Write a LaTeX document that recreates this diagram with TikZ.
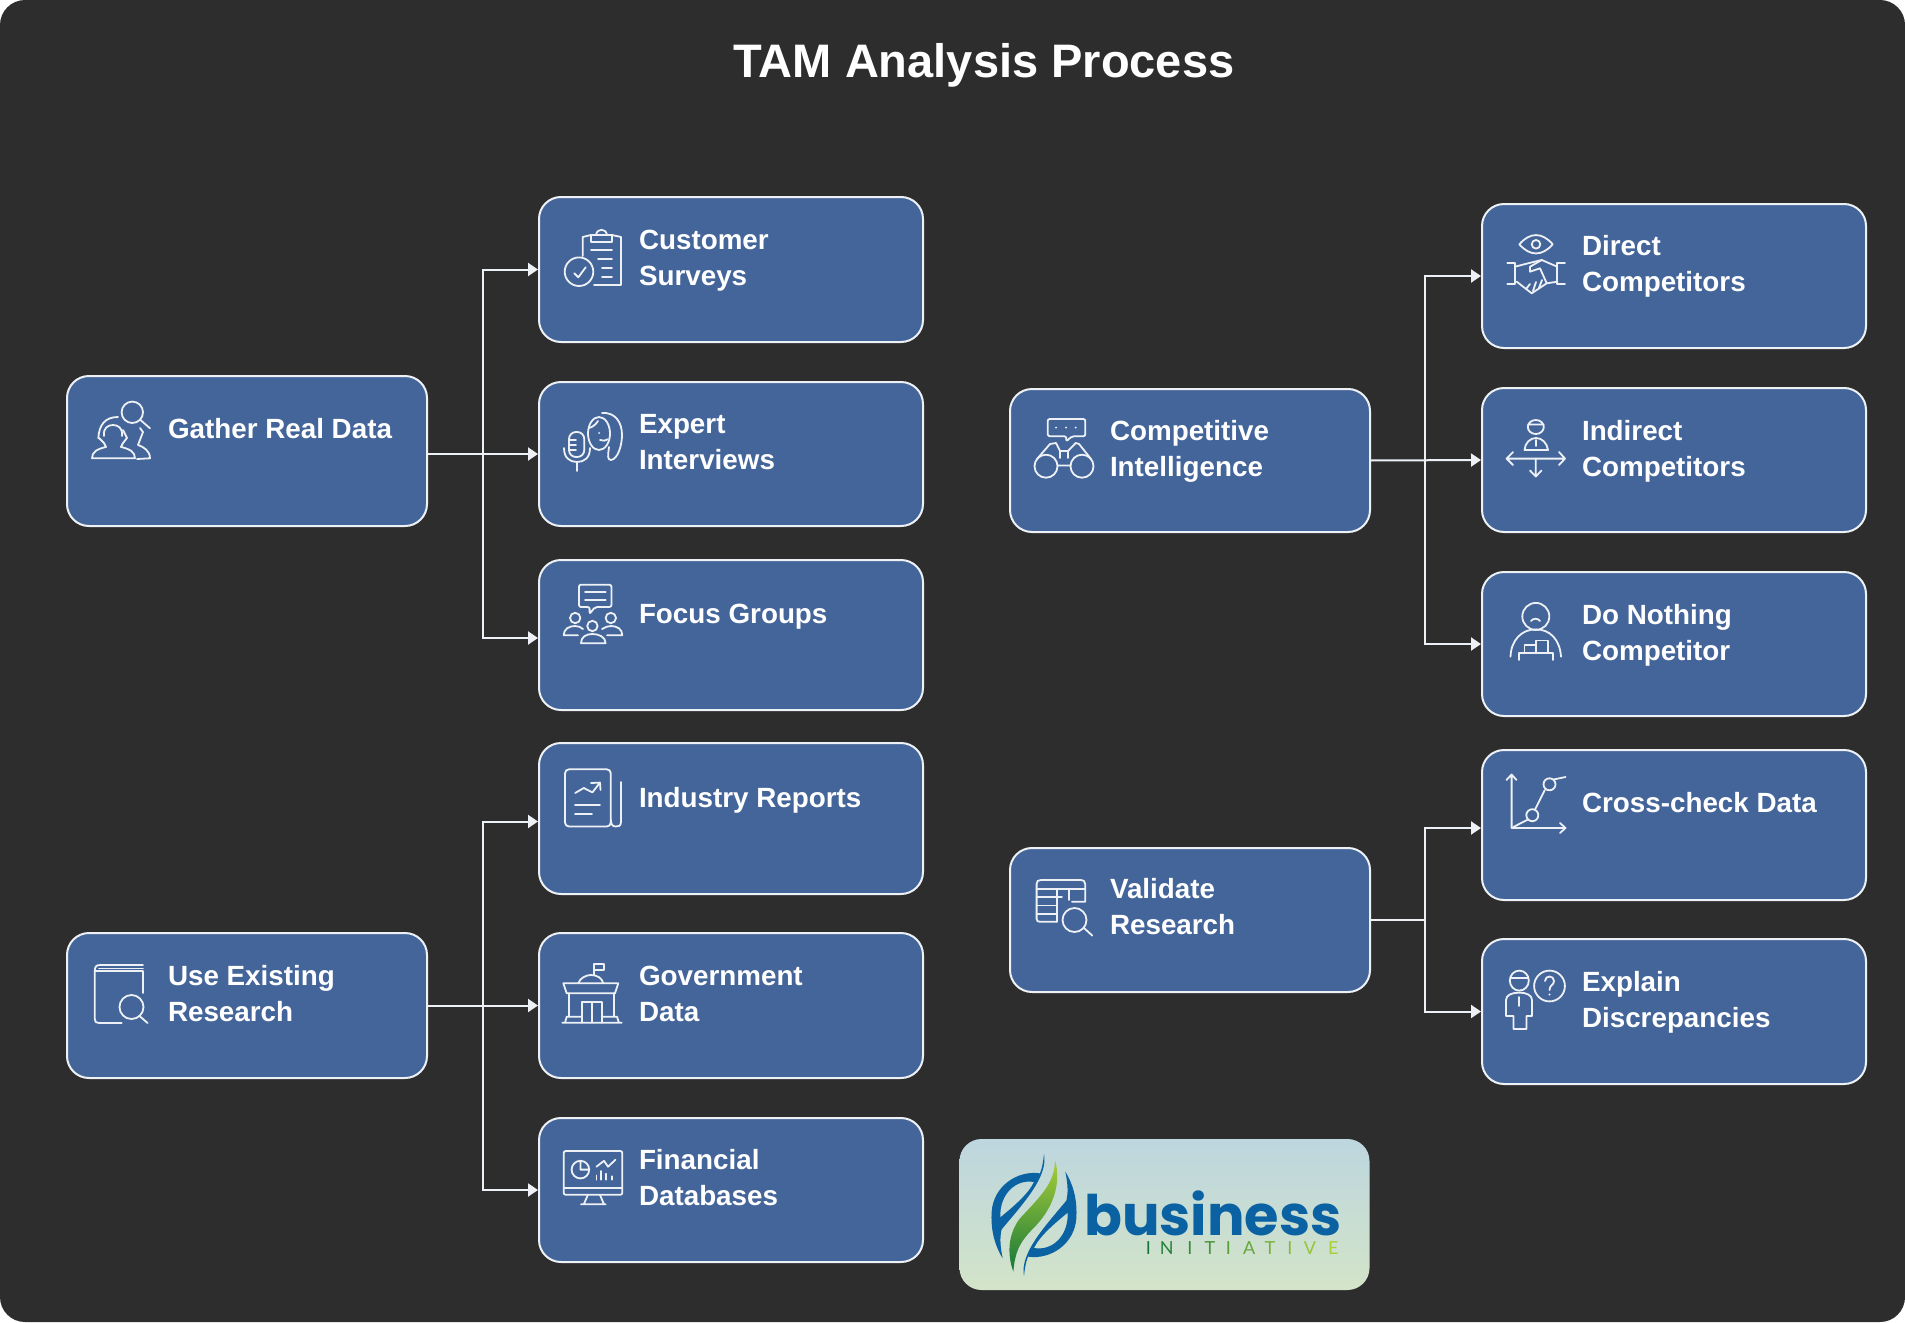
\documentclass[tikz,border=0pt]{standalone}
\usepackage{fontspec}
\setmainfont{Liberation Sans}
\newfontfamily\logofont{Poppins}
\newfontfamily\logothinfont{Lato}
\usetikzlibrary{arrows,arrows.meta}
\usetikzlibrary{calc}
\definecolor{pagebg}{HTML}{2D2D2D}
\definecolor{boxblue}{HTML}{44659A}
\definecolor{boxline}{HTML}{EDF1F6}
\definecolor{logoblue}{HTML}{0A62A3}
\definecolor{logodark}{HTML}{17773A}
\definecolor{logolight}{HTML}{A9CF38}
\definecolor{logotop}{HTML}{BDD6DF}
\definecolor{logobottom}{HTML}{D3E4C8}
\begin{document}
\begin{tikzpicture}[
        x=1pt,y=-1pt,
        >={Triangle[length=10pt,width=13pt]},
        headbox/.style = {draw=boxline,fill=boxblue,line width=2pt,rounded corners=22pt,outer sep=0pt,inner sep=0pt,minimum width=360pt},
        leafbox/.style = {headbox,minimum width=384pt},
        boxtext/.style = {anchor=west,text=white,align=left,inner sep=0pt,outer sep=0pt,font=\fontsize{27.8}{36}\selectfont\bfseries},
        link/.style = {draw=boxline,line width=2pt,shorten >=1pt},
        trunk/.style = {draw=boxline,line width=2pt},
        icon/.style = {draw=boxline,line width=1.8pt,line cap=round,line join=round}
    ]
    \useasboundingbox (0,0) rectangle (1905,1322);
    \fill[white] (0,0) rectangle (1905,1322);
    \fill[pagebg,rounded corners=25pt] (0,0) rectangle (1905,1322);
    \node[text=white,inner sep=0pt,font=\fontsize{47}{50}\selectfont\bfseries] (title) at (984,65) {TAM Analysis Process};

    % left column
    \node[headbox,minimum height=150pt] (gather) at (247,451) {};
    \node[leafbox,minimum height=145pt] (customer) at (731,269.5) {};
    \node[leafbox,minimum height=144pt] (expert) at (731,454) {};
    \node[leafbox,minimum height=150pt] (focus) at (731,635) {};
    \node[headbox,minimum height=145pt] (existing) at (247,1005.5) {};
    \node[leafbox,minimum height=151pt] (industry) at (731,818.5) {};
    \node[leafbox,minimum height=145pt] (government) at (731,1005.5) {};
    \node[leafbox,minimum height=144pt] (financial) at (731,1190) {};
    % right column
    \node[headbox,minimum height=143pt] (competitive) at (1190,460.5) {};
    \node[leafbox,minimum height=144pt] (direct) at (1674,276) {};
    \node[leafbox,minimum height=144pt] (indirect) at (1674,460) {};
    \node[leafbox,minimum height=144pt] (nothing) at (1674,644) {};
    \node[headbox,minimum height=144pt] (validate) at (1190,920) {};
    \node[leafbox,minimum height=150pt] (crosscheck) at (1674,825) {};
    \node[leafbox,minimum height=145pt] (explain) at (1674,1011.5) {};

    \node[boxtext] (gathertext) at (168,429) {Gather Real Data};
    \node[boxtext] (customertext) at (639,261) {Customer\\Surveys};
    \node[boxtext] (experttext) at (639,442) {Expert\\Interviews};
    \node[boxtext] (focustext) at (639,617) {Focus Groups};
    \node[boxtext] (existingtext) at (168,994) {Use Existing\\Research};
    \node[boxtext] (industrytext) at (639,800) {Industry Reports};
    \node[boxtext] (governmenttext) at (639,994) {Government\\Data};
    \node[boxtext] (financialtext) at (639,1178) {Financial\\Databases};
    \node[boxtext] (competitivetext) at (1110,451) {Competitive\\Intelligence};
    \node[boxtext] (directtext) at (1582,266) {Direct\\Competitors};
    \node[boxtext] (indirecttext) at (1582,451) {Indirect\\Competitors};
    \node[boxtext] (nothingtext) at (1582,635) {Do Nothing\\Competitor};
    \node[boxtext] (validatetext) at (1110,907) {Validate\\Research};
    \node[boxtext] (crosschecktext) at (1582,803) {Cross-check Data};
    \node[boxtext] (explaintext) at (1582,1002) {Explain\\Discrepancies};

    \coordinate (gatherjoint) at (483,454);
    \coordinate (existingjoint) at (483,1006);
    \coordinate (competitivejoint) at (1425,460);
    \coordinate (validatejoint) at (1425,920);
    \draw[trunk] (gatherjoint |- customer.west) -- (gatherjoint |- focus.west);
    \draw[link,->] (gather.east |- expert.west) -- (expert.west);
    \draw[link,->] (gatherjoint) |- (customer.west);
    \draw[link,->] (gatherjoint) |- ([yshift=-3pt]focus.west);
    \draw[link,->] (existing.east) -- (government.west);
    \draw[link,->] (existingjoint) |- ([yshift=-3pt]industry.west);
    \draw[link,->] (existingjoint) |- (financial.west);
    \draw[link,->] (competitive.east) -- (indirect.west);
    \draw[link,->] (competitivejoint) |- (direct.west);
    \draw[link,->] (competitivejoint) |- (nothing.west);
    \draw[trunk] (validate.east) -- (validatejoint);
    \draw[link,->] (validatejoint) |- ([yshift=-3pt]crosscheck.west);
    \draw[link,->] (validatejoint) |- (explain.west);

    % gather icon
    \draw[icon] (132.3,412.3) circle (10.7) (140.5,420) -- (150,428.3);
    \draw[icon] (98.3,438.3) .. controls (99,425) and (105,417) .. (118,417);
    \draw[icon] (104,436) .. controls (103,428) and (108,425) .. (113,425) .. controls (118,425) and (123,428) .. (122,436);
    \draw[icon] (99,438) -- (104,443) -- (106,447) .. controls (97,449) and (92,452) .. (92,458.3) -- (135,458.3) .. controls (135,452) and (130,449) .. (121,447) -- (123,443) -- (127,438) -- (123,430);
    \draw[icon] (137,459) -- (150,458.3) .. controls (150,451) and (144,447) .. (138,445) -- (143,432) -- (140,428);
    % customer icon
    \draw[icon] (582.7,256) -- (582.7,237) -- (591,235) (612,235) -- (621,237) -- (621,285) -- (594,285);
    \draw[icon] (591,235) rectangle (612,241.7);
    \draw[icon] (596,235) .. controls (597,228) and (606,228) .. (607,235);
    \draw[icon] (591,250) -- (612,250) (598,259) -- (612,259) (602,267.7) -- (612,267.7) (602,276.7) -- (612,276.7);
    \draw[icon] (579,271.7) circle (14.3);
    \draw[icon] (574.3,273.3) -- (578.3,277.3) -- (585.7,267.3);
    % expert icon
    \draw[icon,rounded corners=7pt] (569,432) rectangle (584.3,457);
    \draw[icon] (569,440) -- (576,440) (569,445) -- (576,445) (569,450) -- (576,450);
    \draw[icon] (564,448) .. controls (564,458) and (570,462) .. (577,462) .. controls (584,462) and (590,458) .. (590,448) (577,462) -- (577,471);
    \draw[icon] (599,433.5) ellipse [x radius=11,y radius=16.5];
    \draw[icon] (589,428) .. controls (593,427) and (596,424) .. (598,421);
    \draw[icon] (602,413) .. controls (615,412) and (622,422) .. (622,435) .. controls (622,445) and (618,459) .. (611,460) .. controls (607,460) and (608,455) .. (609,447);
    \fill[boxline] (599,433) circle (1);
    \draw[icon] (600,440) .. controls (603,441) and (606,441) .. (607.7,439.3);
    % focus icon
    \draw[icon,rounded corners=2pt] (585,607) -- (579,607) -- (579,584.7) -- (611.4,584.7) -- (611.4,607) -- (595,607) -- (589.6,614) -- (589.6,607) -- cycle;
    \draw[icon] (585,591.6) -- (605.6,591.6) (585,600) -- (605.6,600);
    \draw[icon] (592.4,626) circle (5.2);
    \draw[icon] (581,643.2) .. controls (581,637) and (586,634) .. (592.4,634) .. controls (599,634) and (605.6,637) .. (605.6,643.2) -- cycle;
    \draw[icon] (575.2,618) circle (5.2);
    \draw[icon] (563.7,635.3) .. controls (563.7,629) and (569,626) .. (575,626) .. controls (578,626) and (581,627) .. (583,629) (563.7,635.3) -- (578,635.3);
    \draw[icon] (610.8,618) circle (5.2);
    \draw[icon] (622.3,635.3) .. controls (622.3,629) and (617,626) .. (611,626) .. controls (608,626) and (605,627) .. (602,629) (622.3,635.3) -- (607,635.3);
    % industry icon
    \draw[icon,rounded corners=4pt] (565,769.3) rectangle (610.8,826.5);
    \draw[icon] (621,782) -- (621,822) .. controls (621,826) and (618,827) .. (615.4,826.5) .. controls (612,826) and (611,824) .. (611,820);
    \draw[icon] (575.2,793) -- (583.8,788) -- (592.4,792.4) -- (600,782.6) (591,783) -- (600,782.6) -- (600.5,790);
    \draw[icon] (575,804.7) -- (600,804.7) (575,814.2) -- (592,814.2);
    % government icon
    \draw[icon] (594,975) -- (594,964) -- (604,964) -- (604,970) -- (594,970);
    \draw[icon] (578.3,983.3) .. controls (580,978) and (586,975) .. (591,975) .. controls (597,975) and (602,978) .. (603.3,983.3);
    \draw[icon] (563.3,983.3) -- (618.3,983.3) -- (615,993.3) -- (566.7,993.3) -- cycle;
    \draw[icon] (569,993.3) -- (569,1016.7) (614.3,993.3) -- (614.3,1016.7);
    \draw[icon] (581.7,1022.7) -- (581.7,1002.3) -- (601.7,1002.3) -- (601.7,1022.7) (591.7,1002.3) -- (591.7,1022.7);
    \draw[icon] (565,1022.7) -- (566.7,1016.7) -- (581.7,1016.7) (601.7,1016.7) -- (617,1016.7) -- (619,1022.7) (562.3,1022.7) -- (621.7,1022.7);
    % financial icon
    \draw[icon,rounded corners=2pt] (563.7,1151) rectangle (622.3,1194.8);
    \draw[icon] (563.7,1187.8) -- (622.3,1187.8);
    \draw[icon] (587.8,1195) -- (583.8,1204.3) (600,1195) -- (604,1204.3) (581,1204.3) -- (605.6,1204.3);
    \draw[icon] (580.4,1169.6) circle (8.8) (580.4,1160.8) -- (580.4,1169.6) -- (589.2,1169.6);
    \draw[icon] (596.4,1166.7) -- (604,1160.8) -- (608,1166.7) -- (615.4,1159.8);
    \draw[icon] (596.4,1179.7) -- (596.4,1175.5) (601,1179.7) -- (601,1171) (605.6,1179.7) -- (605.6,1173.7) (612,1179.7) -- (612,1176.2);
    % existing icon
    \draw[icon] (143,993) -- (143,971) -- (96,971) (143,965) -- (100,965) .. controls (96,965) and (94.8,967) .. (94.8,971) -- (94.8,1019) .. controls (94.8,1022) and (96,1023) .. (99,1023) -- (121.8,1023);
    \draw[icon] (99,968.5) -- (143,968.5);
    \draw[icon] (131.5,1007) circle (12) (139.5,1016) -- (147.6,1023);
    % competitive icon
    \draw[icon,rounded corners=2pt] (1058,436.2) -- (1047.7,436.2) -- (1047.7,419) -- (1085.3,419) -- (1085.3,436.2) -- (1072,436.2) -- (1066.2,441.4) -- (1066.2,436.2) -- cycle;
    \fill[boxline] (1056,427.6) circle (1.1) (1066,427.6) circle (1.1) (1075.7,427.6) circle (1.1);
    \draw[icon] (1046,466.2) circle (11.5) (1082,466.2) circle (11.5) (1057.5,465.5) -- (1070.5,465.5);
    \draw[icon] (1037,459) -- (1050,444) -- (1056,443) -- (1060,451) -- (1068,451) -- (1075.7,443) -- (1079,444) -- (1091,459);
    \draw[icon] (1060,451) -- (1060,458) (1068,451) -- (1068,458);
    % validate icon
    \draw[icon] (1072,901.8) -- (1085.2,901.8) -- (1085.2,884) .. controls (1085.2,881) and (1083,880) .. (1081,880) -- (1041,880) .. controls (1038,880) and (1036.6,881) .. (1036.6,884) -- (1036.6,919) .. controls (1036.6,921) and (1038,921.8) .. (1040,921.8) -- (1056.7,921.8);
    \draw[icon] (1036.6,889) -- (1085.2,889) (1036.6,897) -- (1062,897) (1036.6,905.4) -- (1056.7,905.4) (1036.6,913.8) -- (1056.7,913.8);
    \draw[icon] (1056.7,889) -- (1056.7,921.8) (1068.6,889) -- (1068.6,900);
    \draw[icon] (1074.5,920) circle (12) (1084,928) -- (1092.3,935.6);
    % direct icon
    \draw[icon] (1519.3,244.3) .. controls (1530,232) and (1542,232) .. (1552.7,244.3) .. controls (1542,256.5) and (1530,256.5) .. cycle;
    \draw[icon] (1536,244.3) circle (4.3);
    \draw[icon] (1507.3,263.3) -- (1515,263.3) -- (1515,284.3) -- (1507.3,284.3) (1565,263.3) -- (1557.3,263.3) -- (1557.3,284.3) -- (1565,284.3);
    \draw[icon] (1515,266.7) -- (1528,263.3) -- (1541.7,260) -- (1557.3,266.7);
    \draw[icon] (1516.7,281.7) -- (1531.7,293.3) -- (1546.7,283.3) -- (1557.3,281.7);
    \draw[icon] (1541.7,260) -- (1530,266.7) -- (1530,271.7) -- (1540,268.3) -- (1546.7,283.3);
    \draw[icon] (1526,289) -- (1530,284) (1533,291) -- (1536,282) (1539,288) -- (1542,280);
    % indirect icon
    \draw[icon] (1535.8,427) ellipse [x radius=8,y radius=7] (1528,424.5) -- (1543.6,424.5);
    \draw[icon] (1524.5,450) .. controls (1525,443) and (1530,438) .. (1536,438) .. controls (1542,438) and (1547,443) .. (1548,450) -- cycle;
    \draw[icon] (1536,440) -- (1536,446);
    \draw[icon] (1506.6,458.6) -- (1565,458.6) (1513,452) -- (1506.6,458.6) -- (1513,465) (1559,452) -- (1565,458.6) -- (1559,465);
    \draw[icon] (1535.8,458.6) -- (1535.8,476.5) (1530,470.5) -- (1535.8,476.5) -- (1541.5,470.5);
    % nothing icon
    \draw[icon] (1535.8,616.4) circle (13.5);
    \draw[icon] (1531,621) .. controls (1533,618) and (1538,618) .. (1540,621);
    \draw[icon] (1510.5,656.7) .. controls (1511,640) and (1522,629) .. (1535.8,629.5) .. controls (1550,629) and (1560,640) .. (1561,656.7);
    \draw[icon] (1519,660) -- (1519,653.3) -- (1552.6,653.3) -- (1552.6,660);
    \draw[icon] (1524.5,653.3) -- (1524.5,644.6) -- (1535.8,644.6) (1535.8,653.3) -- (1535.8,640.5) -- (1548,640.5) -- (1548,653.3);
    % crosscheck icon
    \draw[icon] (1511.6,774.5) -- (1511.6,828) -- (1565.5,828) (1506.5,780) -- (1511.6,774.5) -- (1516.5,780) (1560,823) -- (1565.5,828) -- (1560,833);
    \draw[icon] (1513.3,827) -- (1528,819.5) (1535,809.5) -- (1544.8,790) (1553.5,779.5) -- (1565.5,777);
    \draw[icon] (1532.3,815.2) circle (6) (1549.5,784.3) circle (6);
    % explain icon
    \draw[icon] (1519.3,980.6) ellipse [x radius=9.5,y radius=10] (1510,978) -- (1528.5,978);
    \draw[icon] (1513.4,1029) -- (1526.4,1029) -- (1526.4,1016) -- (1532,1016) -- (1532,1000) .. controls (1532,995) and (1526,992.6) .. (1519.3,992.6) .. controls (1512,992.6) and (1506,995) .. (1506,1000) -- (1506,1016) -- (1513.4,1016) -- cycle;
    \draw[icon] (1519.3,997) -- (1519.3,1006);
    \draw[icon] (1549.5,986) circle (15.4);
    \draw[icon] (1545,981) .. controls (1545,975) and (1554,975) .. (1554,981) .. controls (1554,985) and (1549.5,985) .. (1549.5,990);
    \fill[boxline] (1549.5,994.5) circle (1.1);

    % logo
    \node[draw=none,inner sep=0pt,outer sep=0pt,minimum width=410pt,minimum height=151pt,rounded corners=22pt,top color=logotop,bottom color=logobottom] (logo) at (1164.5,1214.5) {};
    \node[inner sep=0pt,anchor=base west,text=logoblue,font=\fontsize{55.8}{58}\selectfont\logofont\bfseries] (business) at (1084,1235) {business};
    \foreach \ltr/\xx/\share [count=\i] in {I/1148.3/0,N/1166.7/11,I/1190/22,T/1210/33,I/1228.3/44,A/1249.3/55,T/1270/66,I/1290/77,V/1310/88,E/1333.3/100}
        \node[inner sep=0pt,anchor=base,text=logolight!\share!logodark,font=\fontsize{18}{20}\selectfont\logothinfont] (initiative\i) at (\xx,1254) {\ltr};
    \begin{scope}[shift={(960,1140)},scale=0.3333]
        \fill[logoblue,even odd rule] (252,42) .. controls (265,110) and (190,190) .. (125,268) .. controls (118,295) and (122,325) .. (128,355) .. controls (100,310) and (92,260) .. (95,215) .. controls (100,140) and (170,90) .. (240,100) .. controls (248,80) and (250,60) .. cycle
            (222,126) .. controls (165,116) and (118,165) .. (121,232) .. controls (160,200) and (205,162) .. cycle;
        \fill[logoblue,even odd rule,rotate around={180:(222,225)}] (252,42) .. controls (265,110) and (190,190) .. (125,268) .. controls (118,295) and (122,325) .. (128,355) .. controls (100,310) and (92,260) .. (95,215) .. controls (100,140) and (170,90) .. (240,100) .. controls (248,80) and (250,60) .. cycle
            (222,126) .. controls (165,116) and (118,165) .. (121,232) .. controls (160,200) and (205,162) .. cycle;
        \shade[top color=logolight,bottom color=logodark] (285,60) .. controls (285,130) and (240,170) .. (180,235) .. controls (145,280) and (140,340) .. (160,395) .. controls (165,340) and (175,310) .. (220,265) .. controls (280,205) and (305,130) .. cycle;
    \end{scope}
\end{tikzpicture}
\end{document}
